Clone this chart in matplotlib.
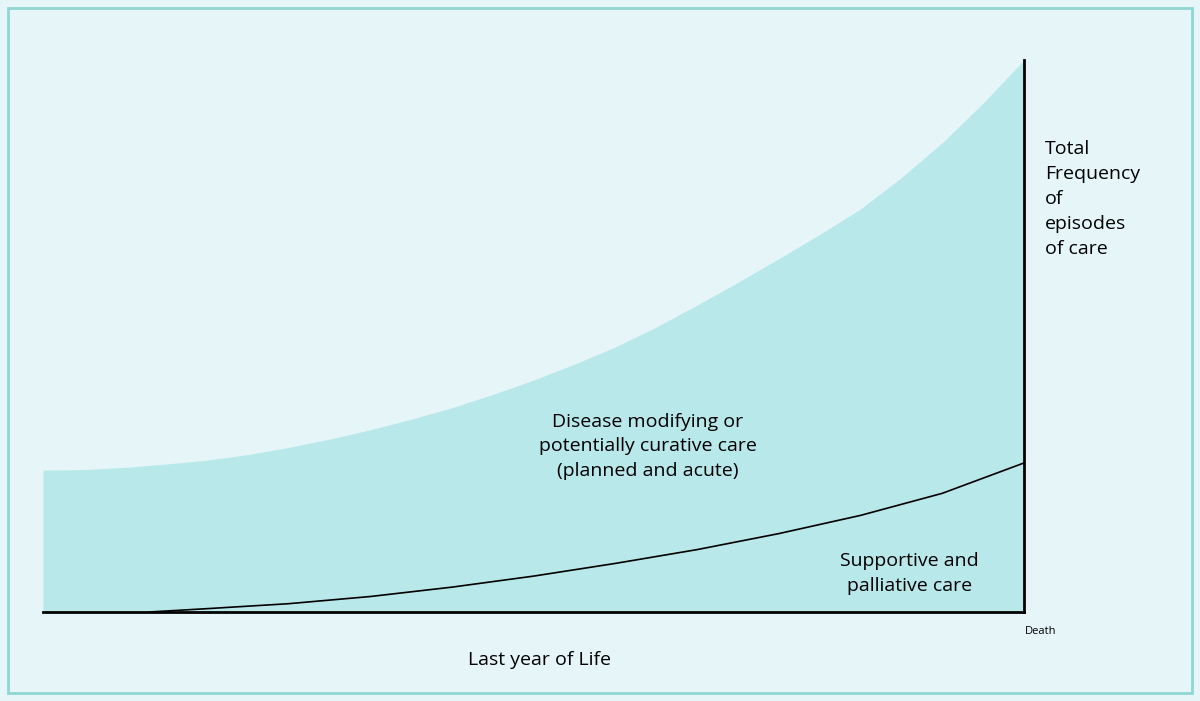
import matplotlib.pyplot as plt
from matplotlib.patches import Rectangle

# months through the last year of life (0 = one year before death, 12 = death)
months_total = [0, 0.5, 1, 1.5, 2, 2.5, 3, 3.5, 4, 4.5, 5, 5.5, 6, 6.5, 7, 7.5, 8, 8.5, 9,
                9.5, 10, 10.5, 11, 11.5, 12]
total_freq = [0.257, 0.258, 0.262, 0.268, 0.275, 0.285, 0.298, 0.313, 0.33, 0.349, 0.37,
              0.394, 0.42, 0.449, 0.48, 0.516, 0.556, 0.597, 0.64, 0.684, 0.73, 0.787,
              0.85, 0.922, 1.0]

months_support = [1.3, 2, 3, 4, 5, 6, 7, 8, 9, 10, 11, 12]
support_freq = [0.0, 0.006, 0.015, 0.028, 0.045, 0.065, 0.088, 0.113, 0.142, 0.175, 0.215, 0.27]

bg = "#e6f6f8"
fill = "#b8e8ea"
W, H = 1200, 701

fig = plt.figure(figsize=(12, 7.01), dpi=100, facecolor=bg)
fig.patches.append(Rectangle((8 / W, 8 / H), 1184 / W, 685 / H, transform=fig.transFigure,
                             fill=False, edgecolor="#8fd6d4", linewidth=2))

ax = fig.add_axes([43 / W, (H - 612) / H, (1024 - 43) / W, 552 / H])
ax.set_facecolor("none")
ax.fill_between(months_total, 0, total_freq, color=fill, linewidth=0)
ax.plot(months_support, support_freq, color="black", linewidth=1.2)
ax.set_xlim(0, 12)
ax.set_ylim(0, 1)
for s in ["top", "left"]:
    ax.spines[s].set_visible(False)
ax.spines["bottom"].set_linewidth(2)
ax.spines["right"].set_linewidth(2)
ax.set_xticks([])
ax.set_yticks([])

fs = 14
ax.text(7.4, 0.30, "Disease modifying or\npotentially curative care\n(planned and acute)",
        ha="center", va="center", fontsize=fs, family="Open Sans", linespacing=1.45)
ax.text(10.6, 0.07, "Supportive and\npalliative care",
        ha="center", va="center", fontsize=fs, family="Open Sans", linespacing=1.45)

fig.text(1045 / W, 1 - 140 / H, "Total\nFrequency\nof\nepisodes\nof care",
         ha="left", va="top", fontsize=fs, family="Open Sans", linespacing=1.5)
fig.text(1025 / W, 1 - 632 / H, "Death", ha="left", va="center", fontsize=8, family="Open Sans")
fig.text(540 / W, 1 - 660 / H, "Last year of Life", ha="center", va="center",
         fontsize=fs, family="Open Sans")

fig.savefig("out.png", dpi=100, facecolor=bg)
